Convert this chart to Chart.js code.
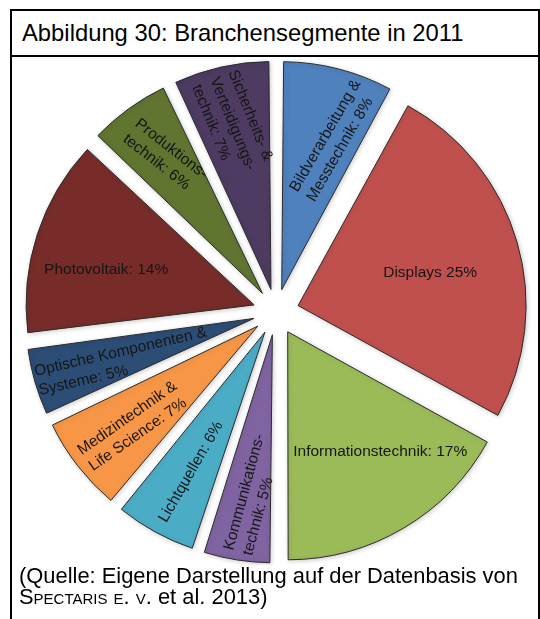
<!DOCTYPE html>
<html lang="de">
<head>
<meta charset="utf-8">
<title>Branchensegmente in 2011</title>
<script src="https://cdn.jsdelivr.net/npm/chart.js@4.4.1/dist/chart.umd.min.js"></script>
<style>
  html, body { margin: 0; padding: 0; background: #fff; }
  body {
    width: 540px; height: 619px; position: relative; overflow: hidden;
    font-family: "Liberation Sans", Arial, sans-serif; color: #000;
  }
  #frame {
    position: absolute; left: 10px; top: 9px; width: 526px; height: 640px;
    border: 2px solid #000; border-bottom: none;
  }
  #title {
    height: 44px; border-bottom: 2px solid #000;
    font-size: 23.8px; line-height: 44px; padding-left: 10px; white-space: nowrap;
  }
  #pie { position: absolute; left: 12px; top: 59px; }
  #source {
    position: absolute; left: 19px; top: 565px;
    font-size: 21.9px; line-height: 21.3px; white-space: nowrap;
  }
  #source .sc { font-variant: small-caps; }
</style>
</head>
<body>
<div id="frame"><div id="title">Abbildung 30: Branchensegmente in 2011</div></div>
<canvas id="pie" width="528" height="506"></canvas>
<div id="source">(Quelle: Eigene Darstellung auf der Datenbasis von<br><span class="sc">Spectaris e. v.</span> et al. 2013)</div>

<script>
// segments in clockwise order starting at 12 o'clock
const segments = [
  'Bildverarbeitung & Messtechnik',
  'Displays',
  'Informationstechnik',
  'Kommunikationstechnik',
  'Lichtquellen',
  'Medizintechnik & Life Science',
  'Optische Komponenten & Systeme',
  'Photovoltaik',
  'Produktionstechnik',
  'Sicherheits- & Verteidigungstechnik'
];

// share in percent
const shares = [8, 25, 17, 5, 6, 7, 5, 14, 6, 7];

// label text as broken in the slices, the value gets appended to the last line
const labelLines = [
  ['Bildverarbeitung &', 'Messtechnik:'],
  ['Displays'],
  ['Informationstechnik:'],
  ['Kommunikations-', 'technik:'],
  ['Lichtquellen:'],
  ['Medizintechnik &', 'Life Science:'],
  ['Optische Komponenten &', 'Systeme:'],
  ['Photovoltaik:'],
  ['Produktions-', 'technik:'],
  ['Sicherheits- &', 'Verteidigungs-', 'technik:']
];

const colors = [
  '#4f81bd', '#c0504d', '#9bbb59', '#8064a2', '#4bacc6',
  '#f79646', '#2c4d75', '#772c2a', '#5f7530', '#4d3b62'
];

const RADIUS = 228;
const EXPLODE = 23;          // distance each slice is pulled out
const LABEL_FONT = '15.5px "Liberation Sans", Arial, sans-serif';
const LINE_H = 19.6;

// where the label block sits: distance from centre, angle tweak and text rotation (deg)
const labelPlace = [
  { dist: 181, turn: 4.3, rot: -60 },
  { dist: 159, turn: 2, rot: 0 },
  { dist: 174, turn: -6.2, rot: 0 },
  { dist: 184, turn: -2.1, rot: -75 },
  { dist: 181, turn: -0.8, rot: -60 },
  { dist: 183, turn: -0.8, rot: -35 },
  { dist: 161, turn: -1.7, rot: -13 },
  { dist: 175, turn: -4.1, rot: 0 },
  { dist: 191, turn: 0.5, rot: 38 },
  { dist: 193, turn: -0.4, rot: 68 }
];

// Chart.js moves an arc by offset/4 and also grows its radius for narrow slices;
// shrink the radius back so all slices keep the same size
const evenRadius = {
  id: 'evenRadius',
  afterDatasetsUpdate(chart) {
    chart.getDatasetMeta(0).data.forEach(arc => {
      const fix = 1 - Math.sin(Math.min(Math.PI, arc.circumference));
      arc.outerRadius = RADIUS - EXPLODE * fix;
    });
  }
};

const softShadow = {
  id: 'softShadow',
  beforeDatasetsDraw(chart) {
    const ctx = chart.ctx;
    ctx.save();
    ctx.shadowColor = 'rgba(0,0,0,0.2)';
    ctx.shadowBlur = 5;
    ctx.shadowOffsetX = 1;
    ctx.shadowOffsetY = 1;
  },
  afterDatasetsDraw(chart) {
    chart.ctx.restore();
  }
};

const sliceLabels = {
  id: 'sliceLabels',
  afterDraw(chart) {
    const ctx = chart.ctx;
    const arcs = chart.getDatasetMeta(0).data;
    ctx.save();
    ctx.font = LABEL_FONT;
    ctx.fillStyle = '#161616';
    ctx.textBaseline = 'middle';
    ctx.textAlign = 'left';
    arcs.forEach((arc, i) => {
      const lines = labelLines[i].slice();
      lines[lines.length - 1] += ' ' + shares[i] + '%';
      const p = labelPlace[i];
      const a = (arc.startAngle + arc.endAngle) / 2 + p.turn * Math.PI / 180;
      const x = arc.x + Math.cos(a) * p.dist;
      const y = arc.y + Math.sin(a) * p.dist;
      const w = Math.max(...lines.map(l => ctx.measureText(l).width));
      ctx.save();
      ctx.translate(x, y);
      ctx.rotate(p.rot * Math.PI / 180);
      lines.forEach((l, k) => {
        ctx.fillText(l, -w / 2, (k - (lines.length - 1) / 2) * LINE_H);
      });
      ctx.restore();
    });
    ctx.restore();
  }
};

new Chart(document.getElementById('pie'), {
  type: 'pie',
  data: {
    labels: segments,
    datasets: [{
      data: shares,
      backgroundColor: colors,
      borderColor: '#2b2b2b',
      borderWidth: 1,
      offset: EXPLODE * 4,
      radius: RADIUS,
      clip: false
    }]
  },
  options: {
    responsive: false,
    animation: false,
    layout: { padding: 0 },
    plugins: {
      legend: { display: false },
      tooltip: { enabled: false }
    }
  },
  plugins: [evenRadius, softShadow, sliceLabels]
});
</script>
</body>
</html>
